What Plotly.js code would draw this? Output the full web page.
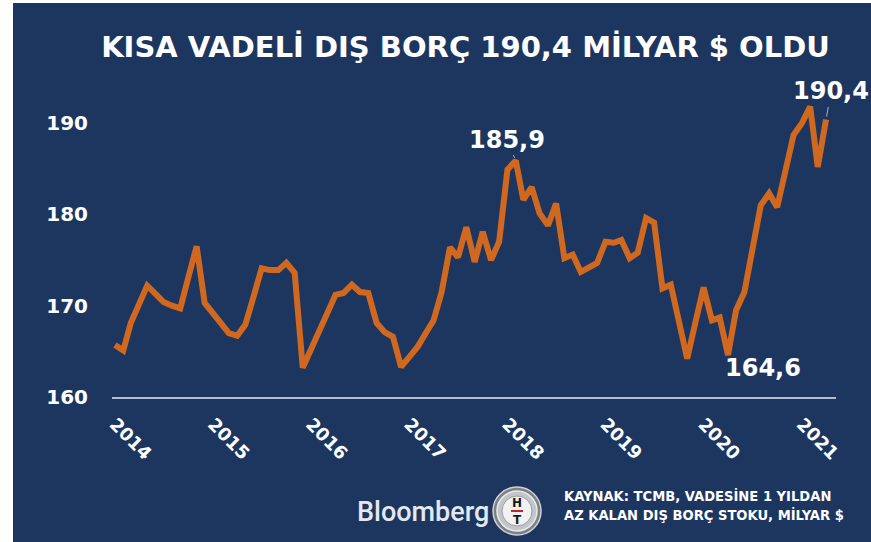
<!DOCTYPE html>
<html>
<head>
<meta charset="utf-8">
<script src="https://cdn.plot.ly/plotly-3.0.1.min.js"></script>
<style>
  html, body { margin: 0; padding: 0; background: #ffffff; }
  #chart { position: absolute; left: 13px; top: 3px; width: 858px; height: 539px; }
</style>
</head>
<body>
<div id="chart"></div>
<script>
// ---- data ----
const startYear = 2014;
const startMonth = 1;
const debtValues = [
  165.7, 165.1, 168.1, 170.2, 172.2, 171.3, 170.4, 170.0, 169.7, 173.1, 176.5, 170.3,
  169.2, 168.1, 167.0, 166.7, 167.9, 171.0, 174.1, 173.9, 173.9, 174.7, 173.6, 163.2,
  165.3, 167.3, 169.3, 171.2, 171.4, 172.3, 171.5, 171.4, 168.1, 167.1, 166.6, 163.3,
  164.4, 165.5, 166.9, 168.4, 171.5, 176.4, 175.3, 178.6, 174.8, 178.1, 175.0, 177.0,
  184.9, 185.9, 181.6, 183.0, 180.1, 178.8, 181.2, 175.2, 175.6, 173.7, 174.2, 174.7,
  177.0, 176.9, 177.2, 175.2, 175.8, 179.6, 179.1, 171.9, 172.3, 168.1, 164.2, 168.1,
  172.0, 168.4, 168.7, 164.6, 169.5, 171.5, 176.3, 181.0, 182.3, 180.8, 184.8, 188.7,
  190.0, 191.8, 185.2, 190.4
];
const yTicks = [160, 170, 180, 190];
const yearTicks = ['2014','2015','2016','2017','2018','2019','2020','2021'];
const callouts = [
  {idx: 49, label: '185,9', ax: -9, ay: -21, arrow: true},
  {idx: 75, label: '164,6', ax: 35, ay: 13, arrow: false},
  {idx: 87, label: '190,4', ax: 5, ay: -28, arrow: true}
];
const titleText = 'KISA VADELİ DIŞ BORÇ 190,4 MİLYAR $ OLDU';
const sourceLines = ['KAYNAK: TCMB, VADESİNE 1 YILDAN', 'AZ KALAN DIŞ BORÇ STOKU, MİLYAR $'];

// month dates
const months = debtValues.map((v, i) => {
  const m0 = (startMonth - 1) + i;
  const y = startYear + Math.floor(m0 / 12);
  const m = (m0 % 12) + 1;
  return y + '-' + String(m).padStart(2, '0') + '-01';
});
const yearDates = yearTicks.map(y => y + '-01-01');

const NAVY = '#1d3660';
const ORANGE = '#d0691f';
const BOLD = {family: 'DejaVu Sans, Verdana, sans-serif', color: '#ffffff', weight: 'bold'};

const trace = {
  x: months, y: debtValues, type: 'scatter', mode: 'lines',
  line: {color: ORANGE, width: 6, shape: 'linear'},
  hoverinfo: 'skip'
};

const annotations = callouts.map(c => ({
  x: months[c.idx], y: debtValues[c.idx], xref: 'x', yref: 'y',
  text: c.label, showarrow: true, arrowhead: 0, arrowwidth: 1,
  arrowcolor: c.arrow ? '#a8b2c4' : 'rgba(0,0,0,0)',
  ax: c.ax, ay: c.ay, standoff: 3,
  font: Object.assign({}, BOLD, {size: 24})
}));

annotations.push({
  xref: 'paper', yref: 'paper', x: 0.6215, y: -0.360, xanchor: 'left', yanchor: 'middle',
  align: 'left', showarrow: false, text: sourceLines.join('<br>'),
  font: {family: 'DejaVu Sans Condensed, DejaVu Sans, sans-serif', size: 14.6, color: '#ffffff', weight: 'bold'}
});
annotations.push({
  xref: 'paper', yref: 'paper', x: 0.4296, y: -0.382, xanchor: 'center', yanchor: 'middle',
  showarrow: false, text: 'Bloomberg',
  font: {family: 'Roboto, Liberation Sans, Arial, sans-serif', size: 27, color: '#e4e8ef', weight: 500}
});
// HT logo letters
const logoX = 0.5594, logoY = -0.3787;
annotations.push({
  xref: 'paper', yref: 'paper', x: logoX, y: logoY + 0.028, xanchor: 'center', yanchor: 'middle',
  showarrow: false, text: 'H', font: {family: 'DejaVu Sans', size: 12, color: '#1a1a1a', weight: 'bold'}
});
annotations.push({
  xref: 'paper', yref: 'paper', x: logoX, y: logoY - 0.030, xanchor: 'center', yanchor: 'middle',
  showarrow: false, text: 'T', font: {family: 'DejaVu Sans', size: 12, color: '#1a1a1a', weight: 'bold'}
});

function circ(r, fill, line, lw) {
  return {type: 'circle', xref: 'paper', yref: 'paper', xsizemode: 'pixel', ysizemode: 'pixel',
    xanchor: logoX, yanchor: logoY, x0: -r, x1: r, y0: -r, y1: r,
    fillcolor: fill, line: {color: line, width: lw}, layer: 'above'};
}
const shapes = [
  circ(24, '#7d8085', '#cfd1d4', 1.5),
  circ(20, '#c3c5c8', '#e9eaec', 1.5),
  circ(15, '#f2f2f2', '#9a9da1', 1),
  {type: 'line', xref: 'paper', yref: 'paper', xsizemode: 'pixel', ysizemode: 'pixel',
   xanchor: logoX, yanchor: logoY, x0: -6, x1: 6, y0: 0, y1: 0,
   line: {color: '#c0272d', width: 2}, layer: 'above'}
];

const layout = {
  width: 858, height: 539,
  paper_bgcolor: NAVY, plot_bgcolor: NAVY,
  margin: {l: 99, r: 35, t: 93, b: 145},
  showlegend: false,
  title: {
    text: titleText, xref: 'container', yref: 'container',
    x: 0.5274, y: 0.918, xanchor: 'center', yanchor: 'middle',
    font: Object.assign({}, BOLD, {size: 29})
  },
  xaxis: {
    type: 'date', range: ['2013-12-21', '2021-05-08'],
    tickmode: 'array', tickvals: yearDates, ticktext: yearTicks,
    tickangle: 45, ticks: 'outside', ticklen: 8, tickcolor: 'rgba(0,0,0,0)',
    showgrid: false, zeroline: false,
    showline: true, linecolor: '#b4bdcd', linewidth: 1.5,
    tickfont: Object.assign({}, BOLD, {size: 18}),
    fixedrange: true
  },
  yaxis: {
    range: [160, 192.97], tickmode: 'array', tickvals: yTicks,
    ticks: 'outside', ticklen: 19, tickcolor: 'rgba(0,0,0,0)',
    showgrid: false, zeroline: false, showline: false,
    tickfont: Object.assign({}, BOLD, {size: 20}),
    fixedrange: true
  },
  annotations: annotations,
  shapes: shapes
};

Plotly.newPlot('chart', [trace], layout, {displayModeBar: false, staticPlot: true});
</script>
</body>
</html>
